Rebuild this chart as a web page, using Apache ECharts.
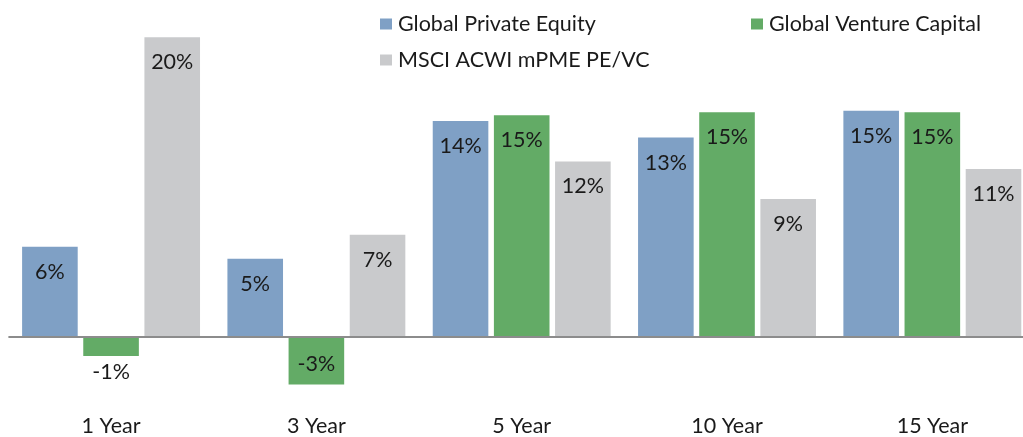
<!DOCTYPE html>
<html>
<head>
<meta charset="utf-8">
<script src="https://cdn.jsdelivr.net/npm/echarts@6/dist/echarts.min.js"></script>
<style>
html,body{margin:0;padding:0;background:#fff;overflow:hidden;}
#c{width:1035px;height:437px;}
</style>
</head>
<body>
<div id="c"></div>
<script>
var categories = ['1 Year', '3 Year', '5 Year', '10 Year', '15 Year'];
var seriesNames = ['Global Private Equity', 'Global Venture Capital', 'MSCI ACWI mPME PE/VC'];
var privateEquity = [6.0, 5.2, 14.4, 13.3, 15.1];
var ventureCapital = [-1.3, -3.2, 14.8, 15.0, 15.0];
var msciPme = [20.0, 6.8, 11.7, 9.2, 11.2];

var colors = ['#7FA0C5', '#63AB66', '#C9CACC'];
var FONT = 'Lato';
var FS = 21.5;

function labelFor(v) {
  if (v >= 0) return { position: 'insideTop', distance: 14 };
  if (v > -2) return { position: 'bottom', distance: 5 };
  return { position: 'insideBottom', distance: 9 };
}
function buildData(arr) {
  return arr.map(function (v) {
    return { value: v, label: labelFor(v) };
  });
}
function makeSeries(name, arr, color, withZero) {
  var s = {
    name: name,
    type: 'bar',
    barWidth: 55.6,
    barGap: '10%',
    itemStyle: { color: color },
    label: {
      show: true,
      fontFamily: FONT,
      fontSize: FS,
      color: '#1a1a1a',
      formatter: function (p) { return Math.round(p.value) + '%'; }
    },
    data: buildData(arr)
  };
  if (withZero) {
    s.markLine = {
      silent: true,
      symbol: 'none',
      label: { show: false },
      lineStyle: { color: '#8C8C8C', width: 2, type: 'solid' },
      data: [{ yAxis: 0 }]
    };
  }
  return s;
}

var chart = echarts.init(document.getElementById('c'), null, { renderer: 'canvas' });
var legendBase = {
  icon: 'rect',
  itemWidth: 12,
  itemHeight: 11,
  itemGap: 0,
  textStyle: { fontFamily: FONT, fontSize: FS, color: '#1a1a1a', padding: [0, 0, 0, 1] }
};
chart.setOption({
  animation: false,
  backgroundColor: '#ffffff',
  legend: [
    Object.assign({}, legendBase, { left: 375, top: 8, data: [seriesNames[0]] }),
    Object.assign({}, legendBase, { left: 746, top: 8, data: [seriesNames[1]] }),
    Object.assign({}, legendBase, { left: 375, top: 44, data: [seriesNames[2]] })
  ],
  grid: { left: 8.4, right: 0, top: 37.3, bottom: 39.5, containLabel: false },
  xAxis: {
    type: 'category',
    data: categories,
    axisLine: { show: false, onZero: false },
    axisTick: { show: false },
    axisLabel: { fontFamily: FONT, fontSize: FS, color: '#1a1a1a', margin: 18.5 }
  },
  yAxis: {
    type: 'value',
    min: -4,
    max: 20,
    show: false,
    splitLine: { show: false }
  },
  series: [
    makeSeries(seriesNames[0], privateEquity, colors[0], true),
    makeSeries(seriesNames[1], ventureCapital, colors[1], false),
    makeSeries(seriesNames[2], msciPme, colors[2], false)
  ]
});
</script>
</body>
</html>
